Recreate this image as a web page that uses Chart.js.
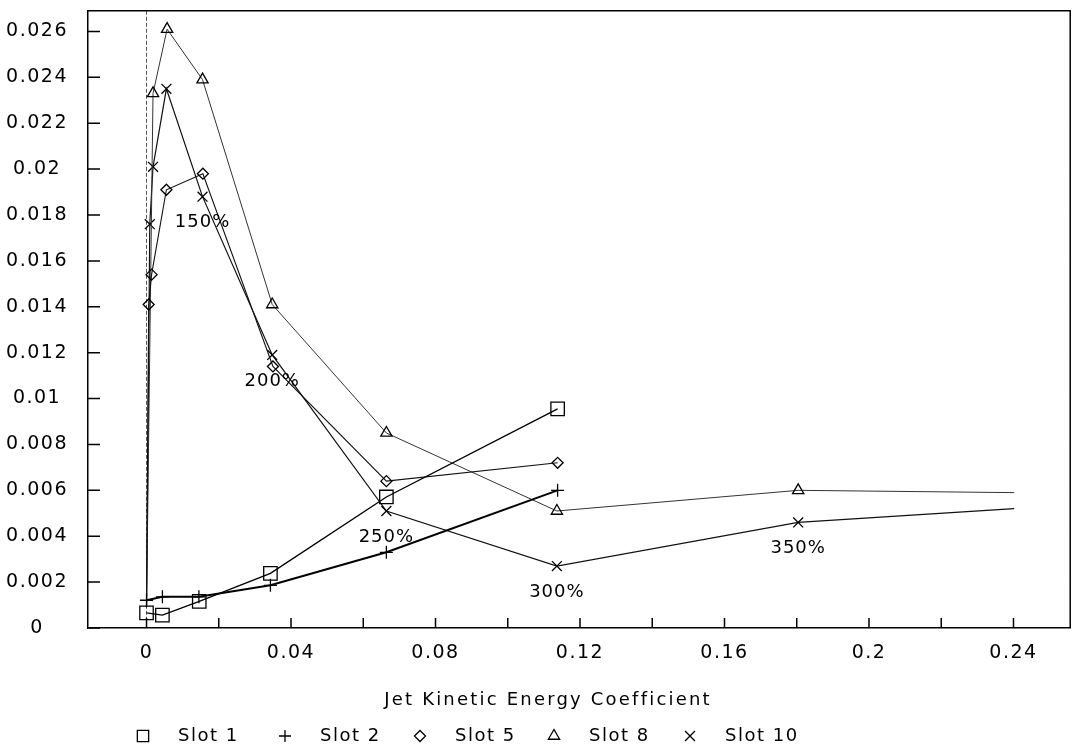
<!DOCTYPE html>
<html>
<head>
<meta charset="utf-8">
<script src="https://cdn.jsdelivr.net/npm/chart.js@4.4.0/dist/chart.umd.min.js"></script>
<style>
  html, body { margin: 0; padding: 0; background: #fff; }
</style>
</head>
<body>
<canvas id="chart" width="1081" height="748"></canvas>
<script>
// values
const slot1X = [0, 0.0044, 0.0146, 0.0343, 0.0664, 0.1138];
const slot1Y = [0.00066, 0.00056, 0.00116, 0.00238, 0.00571, 0.00955];

const slot2X = [0, 0.0044, 0.0145, 0.0343, 0.0664, 0.1138];
const slot2Y = [0.00121, 0.00136, 0.00136, 0.00186, 0.0033, 0.0060];

const slot5X = [0, 0.0006, 0.0014, 0.0055, 0.0156, 0.035, 0.0664, 0.1138];
const slot5Y = [0.0009, 0.0141, 0.0154, 0.0191, 0.0198, 0.0114, 0.0064, 0.0072];

const slot8X = [0, 0.0018, 0.0057, 0.0155, 0.0348, 0.0664, 0.1136, 0.1804, 0.2402];
const slot8Y = [0.0009, 0.0233, 0.0261, 0.0239, 0.0141, 0.0085, 0.0051, 0.0060, 0.0059];

const slot10X = [0, 0.0009, 0.0018, 0.0055, 0.0155, 0.0348, 0.0664, 0.1136, 0.1804, 0.2402];
const slot10Y = [0.0009, 0.0176, 0.0201, 0.0235, 0.0188, 0.0119, 0.0051, 0.0027, 0.0046, 0.0052];

const xTicks = [0, 0.02, 0.04, 0.06, 0.08, 0.1, 0.12, 0.14, 0.16, 0.18, 0.2, 0.22, 0.24];
const xLabelled = [0, 0.04, 0.08, 0.12, 0.16, 0.2, 0.24];
const yTicks = [0, 0.002, 0.004, 0.006, 0.008, 0.01, 0.012, 0.014, 0.016, 0.018, 0.02, 0.022, 0.024, 0.026];

const xTitle = 'Jet Kinetic Energy Coefficient';

// blowing ratio notes, placed under Slot 10 points
const pctLabels = ['150%', '200%', '250%', '300%', '350%'];
const pctPoint = [4, 5, 6, 7, 8];

function toPoints(xs, ys) {
  return xs.map((x, i) => ({ x: x, y: ys[i] }));
}

// hide marker on the shared no-blowing point and on the extended ends
function radiusFor(r, hideFirst, hideLast) {
  return ctx => {
    const n = ctx.dataset.data.length;
    if (hideFirst && ctx.dataIndex === 0) return 0;
    if (hideLast && ctx.dataIndex === n - 1) return 0;
    return r;
  };
}

function series(label, xs, ys, style, r, keyR, width, color, hideFirst, hideLast) {
  return {
    label: label,
    data: toPoints(xs, ys),
    showLine: true,
    tension: 0,
    fill: false,
    borderColor: color,
    borderWidth: width,
    pointStyle: style,
    pointRadius: radiusFor(r, hideFirst, hideLast),
    pointBorderColor: '#000',
    pointBackgroundColor: 'rgba(0,0,0,0)',
    pointBorderWidth: 1.3,
    keyRadius: keyR
  };
}

const FONT = "'DejaVu Sans', sans-serif";
Chart.defaults.font.family = FONT;
Chart.defaults.font.size = 19;
Chart.defaults.color = '#000';

const spacing = {
  id: 'spacing',
  beforeUpdate(chart) { chart.ctx.letterSpacing = '1.5px'; },
  beforeDraw(chart) { chart.ctx.letterSpacing = '1.5px'; }
};

const frame = {
  id: 'frame',
  beforeDatasetsDraw(chart) {
    const { ctx, chartArea: a, scales: { x } } = chart;
    const px = x.getPixelForValue(0);
    ctx.save();
    ctx.strokeStyle = '#555';
    ctx.lineWidth = 1;
    ctx.setLineDash([4, 2]);
    ctx.beginPath();
    ctx.moveTo(px, a.top);
    ctx.lineTo(px, a.bottom);
    ctx.stroke();
    ctx.restore();
  },
  afterDatasetsDraw(chart) {
    const { ctx, scales: { x, y } } = chart;
    ctx.save();
    ctx.fillStyle = '#000';
    ctx.font = '18px ' + FONT;
    ctx.letterSpacing = '1px';
    ctx.textAlign = 'center';
    ctx.textBaseline = 'middle';
    pctLabels.forEach((t, i) => {
      const k = pctPoint[i];
      ctx.fillText(t, x.getPixelForValue(slot10X[k]), y.getPixelForValue(slot10Y[k]) + 26);
    });
    ctx.restore();
  },
  afterDraw(chart) {
    const { ctx, chartArea: a, scales: { x, y } } = chart;
    ctx.save();
    ctx.strokeStyle = '#000';
    ctx.lineWidth = 1.5;
    ctx.beginPath();
    x.ticks.forEach(t => {
      const px = x.getPixelForValue(t.value);
      ctx.moveTo(px, a.bottom);
      ctx.lineTo(px, a.bottom - 10);
    });
    y.ticks.forEach(t => {
      const py = y.getPixelForValue(t.value);
      ctx.moveTo(a.left, py);
      ctx.lineTo(a.left + 12, py);
    });
    ctx.moveTo(a.left, a.top);
    ctx.lineTo(a.right, a.top);
    ctx.lineTo(a.right, a.bottom);
    ctx.stroke();

    // axis title
    ctx.fillStyle = '#000';
    ctx.font = '18px ' + FONT;
    ctx.letterSpacing = '2.2px';
    ctx.textAlign = 'center';
    ctx.textBaseline = 'middle';
    ctx.fillText(xTitle, 548, 700);

    // legend row
    const keyX = [143, 285, 420, 554, 690];
    const keyY = 736;
    ctx.letterSpacing = '1.5px';
    ctx.textAlign = 'left';
    chart.data.datasets.forEach((ds, i) => {
      ctx.strokeStyle = '#000';
      ctx.fillStyle = 'rgba(0,0,0,0)';
      ctx.lineWidth = 1.3;
      Chart.helpers.drawPoint(ctx, { pointStyle: ds.pointStyle, radius: ds.keyRadius, rotation: 0, borderWidth: 1.3 }, keyX[i], keyY);
      ctx.fillStyle = '#000';
      ctx.fillText(ds.label, keyX[i] + 35, keyY);
    });
    ctx.restore();
  }
};

new Chart(document.getElementById('chart'), {
  type: 'scatter',
  data: {
    datasets: [
      series('Slot 1', slot1X, slot1Y, 'rect', 9.5, 8, 1.4, '#000', false, false),
      series('Slot 2', slot2X, slot2Y, 'cross', 6.5, 6, 2, '#000', false, false),
      series('Slot 5', slot5X, slot5Y, 'rectRot', 5.5, 5.5, 1.1, '#111', true, false),
      series('Slot 8', slot8X, slot8Y, 'triangle', 6.5, 6.5, 1, '#333', true, true),
      series('Slot 10', slot10X, slot10Y, 'crossRot', 7, 7, 1.2, '#111', true, true)
    ]
  },
  options: {
    responsive: false,
    animation: false,
    devicePixelRatio: 1,
    layout: { padding: { top: 6, right: 8, left: 0, bottom: 0 } },
    plugins: {
      legend: { display: false },
      tooltip: { enabled: false }
    },
    scales: {
      x: {
        type: 'linear',
        min: -0.0162,
        max: 0.2557,
        afterBuildTicks: s => { s.ticks = xTicks.map(v => ({ value: v })); },
        afterFit: s => {
          s.height = 120;
          s.paddingLeft = 0;
          s.paddingRight = 0;
        },
        ticks: {
          autoSkip: false,
          maxRotation: 0,
          padding: 6,
          callback: v => xLabelled.some(l => Math.abs(l - v) < 1e-9) ? String(parseFloat(v.toFixed(2))) : ''
        },
        grid: { display: false },
        border: { display: true, color: '#000', width: 1.5 }
      },
      y: {
        type: 'linear',
        min: 0,
        max: 0.0269,
        afterBuildTicks: s => { s.ticks = yTicks.map(v => ({ value: v })); },
        afterFit: s => {
          s.width = 88;
          s.paddingTop = 0;
          s.paddingBottom = 0;
        },
        ticks: {
          autoSkip: false,
          padding: 12,
          crossAlign: 'center',
          callback: v => String(parseFloat(v.toFixed(3)))
        },
        grid: { display: false },
        border: { display: true, color: '#000', width: 1.5 }
      }
    }
  },
  plugins: [spacing, frame]
});
</script>
</body>
</html>
